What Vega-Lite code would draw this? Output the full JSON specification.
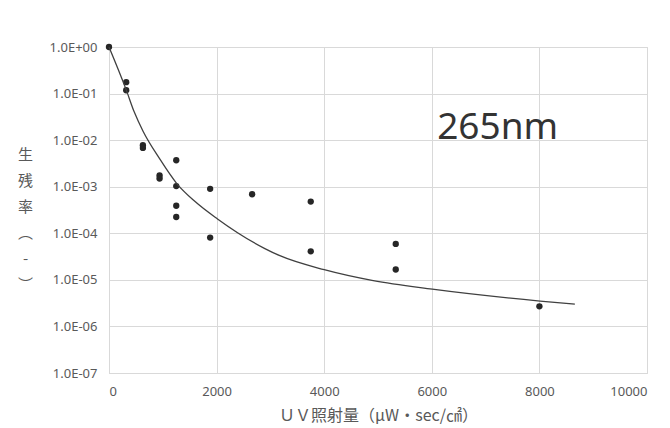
{
  "$schema": "https://vega.github.io/schema/vega-lite/v6.json",
  "width": 538,
  "height": 326,
  "autosize": "none",
  "padding": {"left": 109, "top": 47, "right": 23, "bottom": 55},
  "background": "white",
  "config": {
    "view": {"stroke": "#d9d9d9", "strokeWidth": 1},
    "axis": {
      "labelFont": "Noto Sans",
      "labelFontSize": 13,
      "labelColor": "#595959",
      "titleFont": "Noto Sans CJK JP",
      "titleFontWeight": "normal",
      "titleColor": "#595959",
      "grid": true,
      "gridColor": "#d9d9d9",
      "gridWidth": 1,
      "domainColor": "#d9d9d9",
      "ticks": false
    }
  },
  "datasets": {
    "pts": [
      {"dose": 0, "survival": 1.0},
      {"dose": 320, "survival": 0.176},
      {"dose": 320, "survival": 0.118},
      {"dose": 630, "survival": 0.0078},
      {"dose": 630, "survival": 0.0068},
      {"dose": 940, "survival": 0.00175},
      {"dose": 940, "survival": 0.0015},
      {"dose": 1250, "survival": 0.0037},
      {"dose": 1250, "survival": 0.00103},
      {"dose": 1250, "survival": 0.00039},
      {"dose": 1250, "survival": 0.000224},
      {"dose": 1880, "survival": 0.0009},
      {"dose": 1880, "survival": 0.000081},
      {"dose": 2660, "survival": 0.00069},
      {"dose": 3750, "survival": 0.00048},
      {"dose": 3750, "survival": 0.000041},
      {"dose": 5330, "survival": 0.000059},
      {"dose": 5330, "survival": 0.0000167},
      {"dose": 8000, "survival": 0.0000027}
    ],
    "fit": [
      {"dose": 0, "survival": 1.0},
      {"dose": 320, "survival": 0.12},
      {"dose": 470, "survival": 0.04},
      {"dose": 633, "survival": 0.0155},
      {"dose": 940, "survival": 0.004},
      {"dose": 1260, "survival": 0.00117},
      {"dose": 1600, "survival": 0.00048},
      {"dose": 2017, "survival": 0.000203},
      {"dose": 2897, "survival": 0.000047},
      {"dose": 3176, "survival": 0.000033},
      {"dose": 4000, "survival": 0.0000165},
      {"dose": 4912, "survival": 0.0000096},
      {"dose": 6009, "survival": 0.0000063},
      {"dose": 8013, "survival": 0.0000035},
      {"dose": 8659, "survival": 0.000003}
    ],
    "label": [
      {"dose": 6100, "survival": 0.0108, "text": "265nm"}
    ]
  },
  "encoding": {
    "x": {
      "field": "dose", "type": "quantitative",
      "scale": {"domain": [0, 10000], "nice": false},
      "axis": {
        "values": [0, 2000, 4000, 6000, 8000, 10000],
        "format": "d",
        "labelPadding": 12,
        "title": "ＵＶ照射量（μW・sec/㎠）",
        "titleFontSize": 16,
        "titlePadding": 9
      }
    },
    "y": {
      "field": "survival", "type": "quantitative",
      "scale": {"type": "log", "domain": [0.0000001, 1], "nice": false},
      "axis": {
        "values": [1, 0.1, 0.01, 0.001, 0.0001, 0.00001, 0.000001, 0.0000001],
        "labelExpr": "datum.value >= 0.5 ? '1.0E+00' : '1.0E-0' + round(-log(datum.value) / LN10)",
        "labelPadding": 12,
        "title": ["生", "残", "率", "︵", "-", "︶"],
        "titleAngle": 0,
        "titleFontSize": 15,
        "titleLineHeight": 26,
        "titleAlign": "center",
        "titleBaseline": "top",
        "titleX": -84,
        "titleY": 100
      }
    }
  },
  "layer": [
    {
      "data": {"name": "pts"},
      "mark": {"type": "circle", "color": "#262626", "opacity": 1, "size": 40}
    },
    {
      "data": {"name": "fit"},
      "mark": {"type": "line", "color": "#404040", "strokeWidth": 1.3, "interpolate": "monotone"}
    },
    {
      "data": {"name": "label"},
      "mark": {"type": "text", "align": "left", "baseline": "alphabetic", "font": "Noto Sans", "fontSize": 37, "color": "#333333"},
      "encoding": {
        "text": {"field": "text"}
      }
    }
  ]
}
